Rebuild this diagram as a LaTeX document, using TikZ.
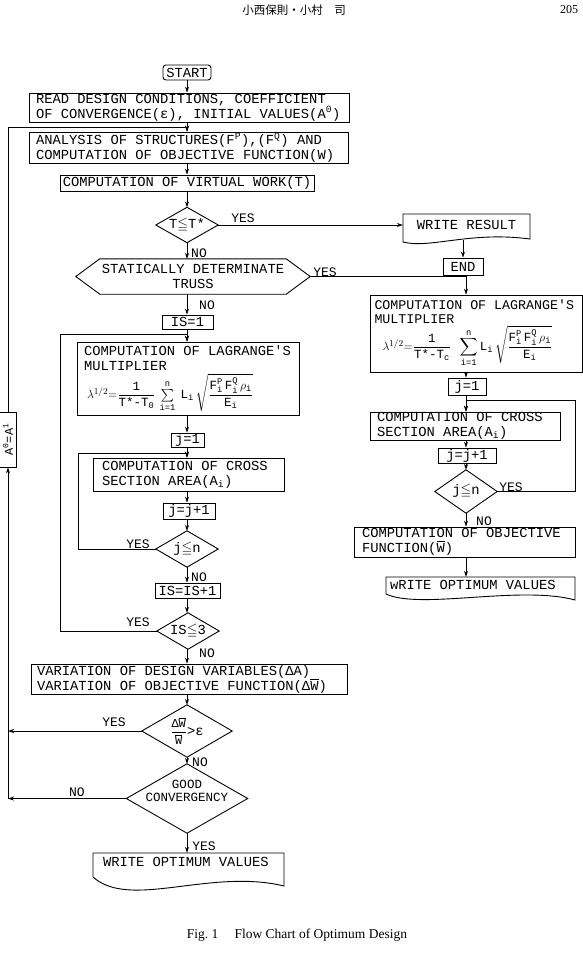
\documentclass[tikz,border=0pt]{standalone}
\usepackage{amsmath,amssymb}
\usepackage{fontspec}
\setmainfont{Liberation Serif}
\newfontfamily\monof{Liberation Mono}
\newfontfamily\jpfont{Noto Sans CJK JP}
\usetikzlibrary{arrows.meta,calc}
\newcommand\Wbar{\ensuremath{\overline{\hbox{W}}}}
\newcommand\tx[1]{\text{#1}}
\newcommand\leqs{\ensuremath{\leqq}}
\tikzset{
  every node/.style={inner sep=0pt, font=\monof\fontsize{13.8}{15}\selectfont},
  tbox/.style={draw, line width=0.9pt, align=flush left},
  sbox/.style={draw, line width=0.9pt, align=flush center},
  ghost/.style={align=flush left},
  outl/.style={line width=0.9pt},
  conn/.style={line width=0.8pt},
  arr/.style={conn, -{Stealth[length=6pt,width=4pt]}},
  lbl/.style={font=\monof\fontsize{13}{14}\selectfont},
}
\begin{document}
\begin{tikzpicture}[x=1pt,y=-1pt]
\fill[white] (0,0) rectangle (583,955);
\useasboundingbox (0,0) rectangle (583,955);
\coordinate (M) at (187,0);
\coordinate (R) at (466,0);

% header and caption
\node[font=\jpfont\fontsize{11.5}{12}\selectfont] (hdr) at (294,10) {小西保則・小村\hspace{1em}司};
\node[font=\rmfamily\fontsize{12}{13}\selectfont] (pg) at (569,10) {205};
\node[font=\rmfamily\fontsize{13.5}{15}\selectfont] (cap) at (297,935) {Fig.~1\hspace{1.2em}Flow Chart of Optimum Design};

% main column
\node[sbox, minimum width=48pt, minimum height=15pt, rounded corners=3pt] (start) at (187,72.5) {START};
\node[tbox, text width=306pt, inner xsep=7pt, minimum height=29pt] (read) at (189,107.5)
  {READ DESIGN CONDITIONS, COEFFICIENT\\OF CONVERGENCE(ε), INITIAL VALUES(A\textsuperscript{0})};
\node[tbox, text width=305pt, inner xsep=7pt, minimum height=31pt] (ana) at (188.5,147.5)
  {ANALYSIS OF STRUCTURES(F\textsuperscript{P}),(F\textsuperscript{Q}) AND\\COMPUTATION OF OBJECTIVE FUNCTION(W)};
\node[sbox, minimum width=254pt, minimum height=16pt] (vw) at (187,183) {COMPUTATION OF VIRTUAL WORK(T)};

\node[minimum width=62pt, minimum height=35pt] (tt) at (187,225) {T\leqs T*};
\draw[outl] (tt.north) -- (tt.east) -- (tt.south) -- (tt.west) -- cycle;

\node[minimum width=127pt, minimum height=22pt] (wr) at (466.5,225) {WRITE RESULT};
\draw[outl] (403,214) -- (530,214) -- (530,239) .. controls (470,231) and (430,249) .. (403,242) -- cycle;
\coordinate (wrb) at (463,240);
\node[sbox, minimum width=40pt, minimum height=17pt] (endn) at (463,266.5) {END};

\node[minimum width=234pt, minimum height=35pt, align=flush center] (hex) at (193,276.5) {STATICALLY DETERMINATE\\TRUSS};
\draw[outl] ($(hex.north west)+(24,0)$) -- ($(hex.north east)+(-24,0)$) -- (hex.east)
  -- ($(hex.south east)+(-24,0)$) -- ($(hex.south west)+(24,0)$) -- (hex.west) -- cycle;

\node[sbox, minimum width=51pt, minimum height=14pt] (is1) at (187.5,322) {IS=1};
\node[tbox, text width=208pt, inner xsep=7pt, minimum height=73pt] (lagL) at (188,378.5)
  {COMPUTATION OF LAGRANGE'S\\MULTIPLIER\\[2pt]\hspace*{3pt}{\fontsize{12.5}{13}\selectfont$\lambda^{1/2}{=}\dfrac{\tx{1}}{\tx{T*-T}_{\tx{0}}}\,\sum\limits_{\tx{i=1}}^{\tx{n}}\;\tx{L}_{\tx{i}}\,\sqrt{\dfrac{\tx{F}^{\tx{P}}_{\tx{i}}\,\tx{F}^{\tx{Q}}_{\tx{i}}\,\rho_{\tx{i}}}{\tx{E}_{\tx{i}}}}$}};
\node[sbox, minimum width=33pt, minimum height=14pt] (j1L) at (187.5,440) {j=1};
\node[tbox, text width=173pt, inner xsep=9pt, minimum height=33pt] (crossL) at (188.5,474.5)
  {COMPUTATION OF CROSS\\SECTION AREA(A\textsubscript{i})};
\node[sbox, minimum width=52pt, minimum height=16pt] (jjL) at (189,511) {j=j+1};
\node[minimum width=62pt, minimum height=36pt] (jle) at (187,549) {j\leqs n};
\draw[outl] (jle.north) -- (jle.east) -- (jle.south) -- (jle.west) -- cycle;
\node[sbox, minimum width=65pt, minimum height=15pt] (isis) at (187.5,590.5) {IS=IS+1};
\node[minimum width=62pt, minimum height=36pt] (isle) at (188,631) {IS\leqs 3};
\draw[outl] (isle.north) -- (isle.east) -- (isle.south) -- (isle.west) -- cycle;
\node[tbox, text width=304pt, inner xsep=6pt, minimum height=30pt] (var) at (189,679)
  {VARIATION OF DESIGN VARIABLES(ΔA)\\VARIATION OF OBJECTIVE FUNCTION(Δ\Wbar)};
\node[minimum width=90pt, minimum height=52pt] (dw) at (187,731)
  {{\fontsize{12}{13}\selectfont$\dfrac{\tx{Δ\Wbar}}{\tx{\Wbar}}$}>ε};
\draw[outl] (dw.north) -- (dw.east) -- (dw.south) -- (dw.west) -- cycle;
\node[minimum width=121pt, minimum height=69pt] (good) at (187,798.5) {};
\draw[outl] (good.north) -- (good.east) -- (good.south) -- (good.west) -- cycle;
\node[align=flush center, font=\monof\fontsize{12.5}{13}\selectfont] (goodt) at (187,791) {GOOD\\CONVERGENCY};
\node[ghost, text width=171pt, inner xsep=10pt, minimum height=17pt] (wovL) at (188.5,861.5) {WRITE OPTIMUM VALUES};
\draw[outl] (93,853) -- (284,853) -- (284,886) .. controls (210,868) and (130,910) .. (93,877) -- cycle;

\node[sbox, rotate=90, minimum width=55pt, minimum height=17pt, font=\monof\fontsize{12}{13}\selectfont] (a0) at (8,439.5) {A\textsuperscript{0}=A\textsuperscript{1}};

% right column
\node[tbox, text width=203pt, inner xsep=4.5pt, minimum height=77pt, font=\monof\fontsize{13.3}{14.5}\selectfont] (lagR) at (476,333.5)
  {COMPUTATION OF LAGRANGE'S\\MULTIPLIER\\\hspace*{8pt}{\fontsize{12.5}{13}\selectfont$\lambda^{1/2}{=}\dfrac{\tx{1}}{\tx{T*-T}_{\tx{c}}}\;\;\displaystyle\sum_{\tx{i=1}}^{\tx{n}}\tx{L}_{\tx{i}}\,\sqrt{\dfrac{\tx{F}^{\tx{P}}_{\tx{i}}\,\tx{F}^{\tx{Q}}_{\tx{i}}\,\rho_{\tx{i}}}{\tx{E}_{\tx{i}}}}$}};
\node[sbox, minimum width=38pt, minimum height=17pt] (j1R) at (467,386.5) {j=1};
\node[tbox, text width=176pt, inner xsep=7pt, minimum height=28pt] (crossR) at (465,426)
  {COMPUTATION OF CROSS\\SECTION AREA(A\textsubscript{i})};
\node[sbox, minimum width=58pt, minimum height=15pt] (jjR) at (467,455.5) {j=j+1};
\node[minimum width=62pt, minimum height=43pt] (jri) at (466,491.5) {j\leqs n};
\draw[outl] (jri.north) -- (jri.east) -- (jri.south) -- (jri.west) -- cycle;
\node[tbox, text width=205pt, inner xsep=8pt, minimum height=30pt] (objR) at (464.5,542)
  {COMPUTATION OF OBJECTIVE\\FUNCTION(\Wbar)};
\node[ghost, text width=181pt, inner xsep=4pt, minimum height=15pt] (wovR) at (480.5,584.5) {wRITE OPTIMUM VALUES};
\draw[outl] (386,577) -- (575,577) -- (575,600) .. controls (520,585) and (420,610) .. (386,594) -- cycle;

% labels
\node[lbl] (y1) at (243,218) {YES};
\node[lbl] (n1) at (199,253) {NO};
\node[lbl] (y2) at (325,272) {YES};
\node[lbl] (n2) at (207,305) {NO};
\node[lbl] (y3) at (138,544) {YES};
\node[lbl] (n3) at (199,577) {NO};
\node[lbl] (y4) at (138,622) {YES};
\node[lbl] (n4) at (207,653) {NO};
\node[lbl] (y5) at (511,487) {YES};
\node[lbl] (n5) at (484,521) {NO};
\node[lbl] (y6) at (114,722) {YES};
\node[lbl] (n6) at (200,762) {NO};
\node[lbl] (n7) at (77,792) {NO};
\node[lbl] (y7) at (204,846) {YES};

% connectors main column
\draw[arr] (start.south -| M) -- (read.north -| M);
\draw[arr] (read.south -| M) -- (ana.north -| M);
\draw[arr] (ana.south -| M) -- (vw.north -| M);
\draw[arr] (vw.south -| M) -- (tt.north);
\draw[arr] (tt.east) -- (tt.east -| wr.west);
\draw[arr] (wrb) -- (endn.north);
\draw[arr] (tt.south) -- (tt.south |- hex.north);
\draw[arr] (hex.south -| M) -- (is1.north -| M);
\draw[arr] (is1.south -| M) -- (lagL.north -| M);
\draw[arr] (lagL.south -| M) -- (j1L.north -| M);
\draw[arr] (j1L.south -| M) -- (crossL.north -| M);
\draw[arr] (crossL.south -| M) -- (jjL.north -| M);
\draw[arr] (jjL.south -| M) -- (jle.north);
\draw[arr] (jle.south) -- (isis.north -| M);
\draw[arr] (isis.south -| M) -- (isle.north -| M);
\draw[arr] (isle.south -| M) -- (var.north -| M);
\draw[arr] (var.south -| M) -- (dw.north);
\draw[arr] (dw.south) -- (good.north);
\draw[arr] (good.south) -- (good.south |- wovL.north);

% loops
\coordinate (L3) at (8,127);
\coordinate (L4) at (187,127);
\draw[arr] (a0.east) -- (L3) -- (L4) -- (ana.north -| L4);
\draw[arr] (dw.west) -- (dw.west -| a0);
\draw[arr] (good.west) -- (good.west -| a0);
\draw[arr] (good.west -| a0) -- (a0.west);
\coordinate (P1) at (60,334);
\draw[arr] (isle.west) -- (isle.west -| P1) -- (P1) -- (P1 -| M) -- (lagL.north -| M);
\coordinate (P2) at (78,453);
\draw[arr] (jle.west) -- (jle.west -| P2) -- (P2) -- (P2 -| M) -- (crossL.north -| M);

% right column connectors
\draw[arr] (hex.east) -- (hex.east -| R) -- (lagR.north -| R);
\draw[arr] (lagR.south -| R) -- (j1R.north -| R);
\draw[arr] (j1R.south -| R) -- (crossR.north -| R);
\draw[arr] (crossR.south -| R) -- (jjR.north -| R);
\draw[arr] (jjR.south -| R) -- (jri.north);
\draw[arr] (jri.south) -- (objR.north -| R);
\draw[arr] (objR.south -| R) -- (wovR.north -| R);
\coordinate (P3) at (575,400);
\draw[arr] (jri.east) -- (jri.east -| P3) -- (P3) -- (P3 -| R) -- (crossR.north -| R);
\end{tikzpicture}
\end{document}
